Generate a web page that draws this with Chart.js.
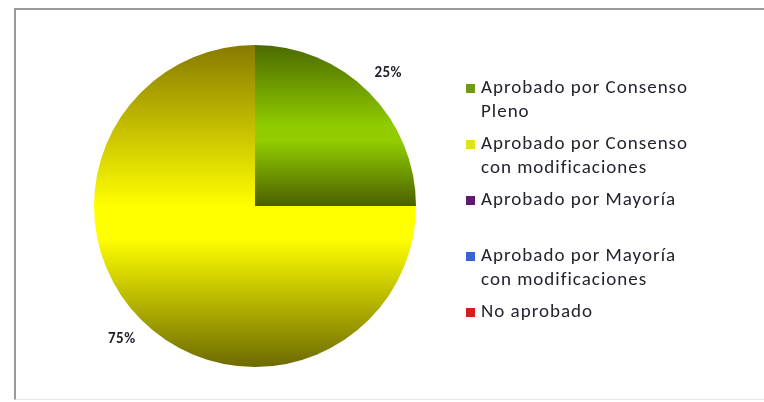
<!DOCTYPE html>
<html>
<head>
<meta charset="utf-8">
<script src="https://cdn.jsdelivr.net/npm/chart.js@4"></script>
<style>
  body { margin: 0; background: #fff; }
  #wrap { position: relative; width: 764px; height: 402px; }
  #frame { position: absolute; left: 14px; top: 8px; right: 0; bottom: 2px;
           border-left: 2px solid #9a9a9a; border-top: 2px solid #9a9a9a; border-bottom: 1px solid #e6e6e6; }
  canvas { position: absolute; left: 0; top: 0; }
</style>
</head>
<body>
<div id="wrap">
  <div id="frame"></div>
  <canvas id="myChart" width="764" height="402"></canvas>
</div>
<script>
// categorias y valores (porcentaje)
var categorias = [
  ['Aprobado por Consenso', 'Pleno'],
  ['Aprobado por Consenso', 'con modificaciones'],
  ['Aprobado por Mayoría', ''],
  ['Aprobado por Mayoría', 'con modificaciones'],
  ['No aprobado']
];
var valores = [25, 75, 0, 0, 0];
var coloresLeyenda = ['#6f9a12', '#dde41e', '#5e1a6e', '#3a62d4', '#d41e1e'];
// degradado vertical de cada sector: arriba, centro, abajo
var degradados = [
  ['#4b6a00', '#90cc00', '#4a6000'],
  ['#877a00', '#ffff00', '#6c6a00'],
  ['#3a0a4a', '#6a2a7a', '#3a0a4a'],
  ['#1a3aa0', '#3a62d4', '#1a3aa0'],
  ['#900000', '#d41e1e', '#900000']
];

var fuente = "Carlito, Lato, 'Liberation Sans', sans-serif";

var gradientePlugin = {
  id: 'gradiente',
  beforeDatasetsDraw: function(chart) {
    var ctx = chart.ctx;
    var meta = chart.getDatasetMeta(0);
    meta.data.forEach(function(arc, i) {
      var p = arc.getProps(['x', 'y', 'startAngle', 'endAngle', 'outerRadius']);
      var minY = p.y, maxY = p.y;
      for (var k = 0; k <= 60; k++) {
        var a = p.startAngle + (p.endAngle - p.startAngle) * k / 60;
        var yy = p.y + Math.sin(a) * p.outerRadius;
        if (yy < minY) minY = yy;
        if (yy > maxY) maxY = yy;
      }
      if (maxY - minY < 1) return;
      var g = ctx.createLinearGradient(0, minY, 0, maxY);
      var c = degradados[i];
      g.addColorStop(0, c[0]);
      g.addColorStop(0.5, c[1]);
      g.addColorStop(0.6, c[1]);
      g.addColorStop(1, c[2]);
      arc.options.backgroundColor = g;
    });
  }
};

var etiquetasPlugin = {
  id: 'etiquetas',
  afterDatasetsDraw: function(chart) {
    var ctx = chart.ctx;
    var meta = chart.getDatasetMeta(0);
    ctx.save();
    ctx.font = "bold 15px " + fuente;
    ctx.letterSpacing = '0.5px';
    ctx.fillStyle = '#1e1e2a';
    ctx.textAlign = 'center';
    ctx.textBaseline = 'middle';
    meta.data.forEach(function(arc, i) {
      if (!valores[i]) return;
      var p = arc.getProps(['x', 'y', 'startAngle', 'endAngle', 'outerRadius']);
      var mid = (p.startAngle + p.endAngle) / 2;
      var r = p.outerRadius * 1.17;
      ctx.fillText(valores[i] + '%', p.x + Math.cos(mid) * r, p.y + Math.sin(mid) * r);
    });
    ctx.restore();
  }
};

var leyendaPlugin = {
  id: 'leyenda',
  afterDraw: function(chart) {
    var ctx = chart.ctx;
    ctx.save();
    ctx.font = "19px " + fuente;
    ctx.letterSpacing = '1px';
    ctx.textBaseline = 'middle';
    var y = 88;
    categorias.forEach(function(lineas, i) {
      ctx.fillStyle = coloresLeyenda[i];
      ctx.fillRect(466, y - 4, 9, 9);
      ctx.fillStyle = '#23232e';
      lineas.forEach(function(t, j) {
        ctx.fillText(t, 481, y + j * 24);
      });
      y += (lineas.length - 1) * 24 + 32;
    });
    ctx.restore();
  }
};

var myChart = new Chart(document.getElementById('myChart').getContext('2d'), {
  type: 'pie',
  data: {
    labels: categorias.map(function(l) { return l.join(' ').trim(); }),
    datasets: [{
      data: valores,
      backgroundColor: coloresLeyenda,
      borderWidth: 0
    }]
  },
  options: {
    responsive: false,
    animation: false,
    layout: { padding: { left: 94, right: 348, top: 45, bottom: 35 } },
    plugins: {
      legend: { display: false },
      tooltip: { enabled: false }
    }
  },
  plugins: [gradientePlugin, etiquetasPlugin, leyendaPlugin]
});
</script>
</body>
</html>
